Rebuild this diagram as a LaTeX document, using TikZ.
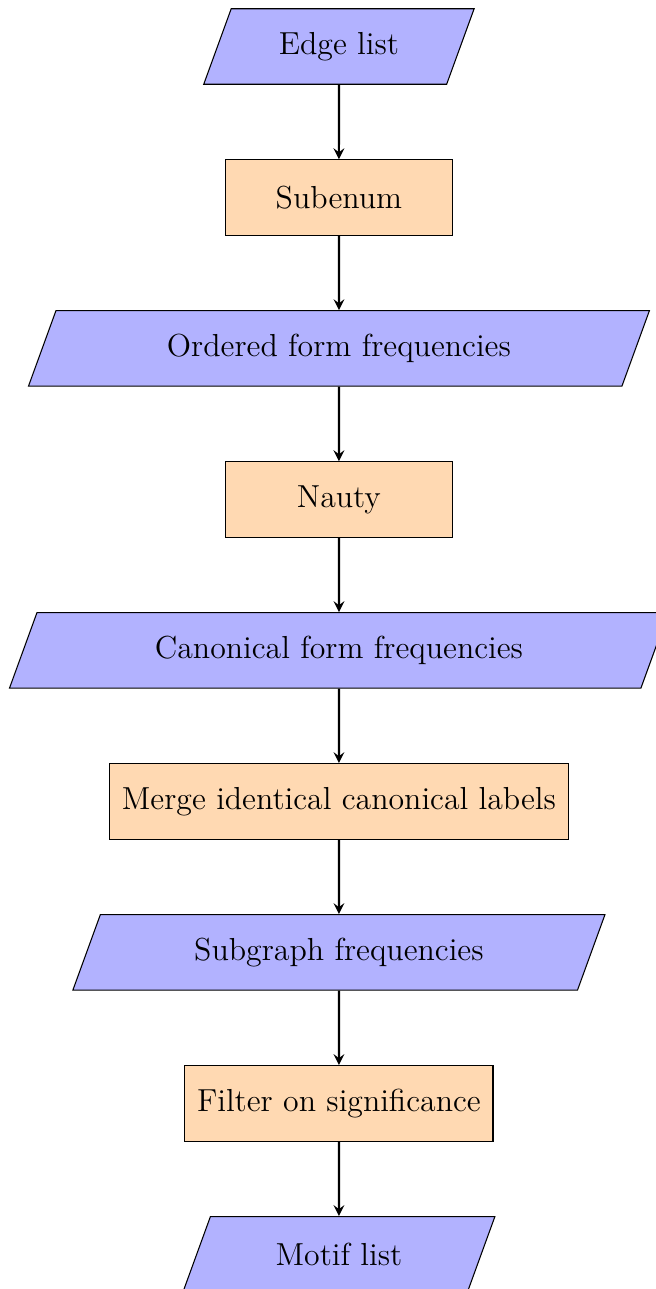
\documentclass[tikz,border=0pt]{standalone}
\usetikzlibrary{shapes.geometric,arrows,positioning}

\begin{document}
\begin{tikzpicture}[node distance=2cm, on grid, font=\large,
  io/.style={trapezium, trapezium left angle=70, trapezium right angle=110, minimum width=3cm, minimum height=1cm, inner ysep=3.7pt, text centered, draw=black, fill=blue!30},
  process/.style={rectangle, minimum width=3cm, minimum height=1cm, inner xsep=4.6pt, text centered, draw=black, fill=orange!30},
  arrow/.style={thick, ->, >=stealth}]
\useasboundingbox (-4.49,0.616) rectangle (4.20,-16.46);
\node[io] (edges) {Edge list};
\node[process, below=of edges] (subenum) {Subenum};
\node[io, below=of subenum] (ordered) {Ordered form frequencies};
\node[process, below=of ordered] (nauty) {Nauty};
\node[io, below=of nauty] (canonical) {Canonical form frequencies};
\node[process, below=of canonical] (merge) {Merge identical canonical labels};
\node[io, below=of merge] (subgraph) {Subgraph frequencies};
\node[process, below=of subgraph] (filter) {Filter on significance};
\node[io, below=of filter] (motifs) {Motif list};
\draw[arrow] (edges) -- (subenum);
\draw[arrow] (subenum) -- (ordered);
\draw[arrow] (ordered) -- (nauty);
\draw[arrow] (nauty) -- (canonical);
\draw[arrow] (canonical) -- (merge);
\draw[arrow] (merge) -- (subgraph);
\draw[arrow] (subgraph) -- (filter);
\draw[arrow] (filter) -- (motifs);
\end{tikzpicture}
\end{document}
